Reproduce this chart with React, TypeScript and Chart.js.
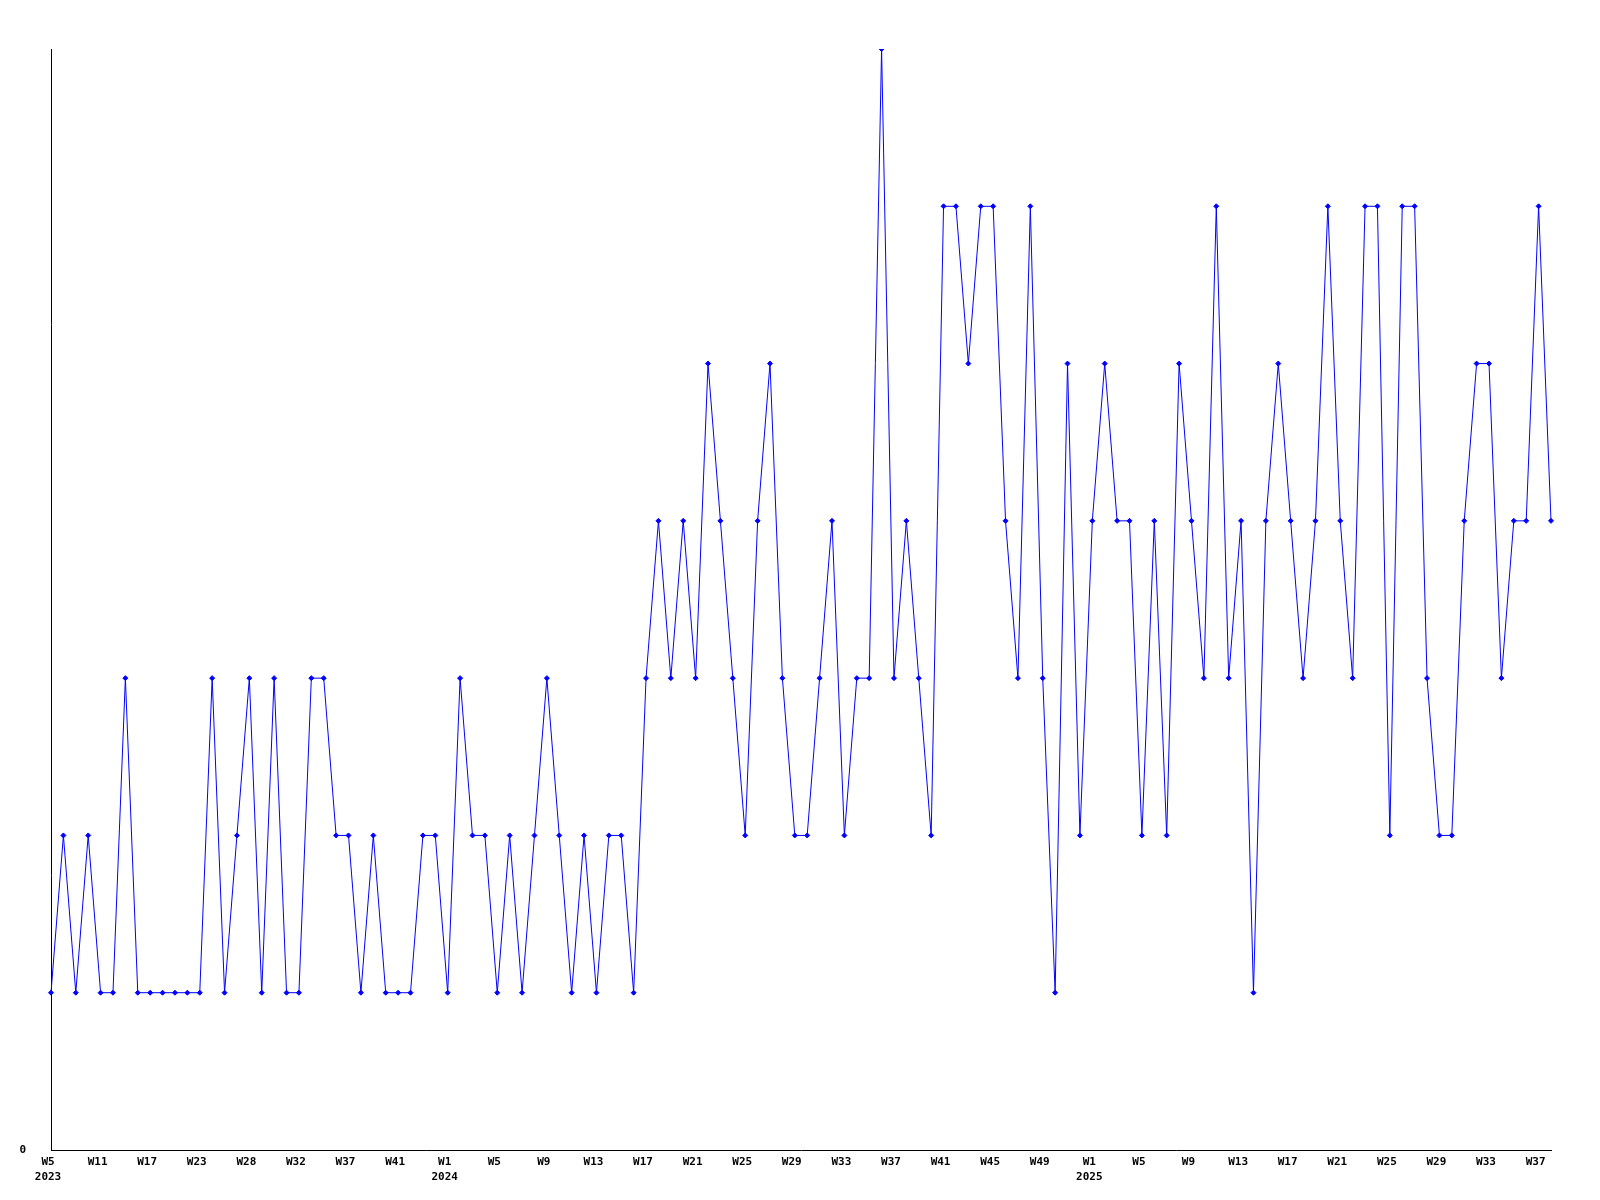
import React, { useEffect, useRef } from "react";
import { Chart, registerables } from "chart.js";

Chart.register(...registerables);

// Week labels for each point (2023 has gaps in the recorded weeks)
const weeks2023 = ["W5","W6","W8","W9","W11","W12","W14","W15","W17","W18","W20","W21","W23","W24","W25","W27","W28","W29","W30","W31","W32","W33","W35","W36","W37","W38","W39","W40","W41","W43","W47","W51"];
const weeks2024 = Array.from({ length: 52 }, (_, i) => "W" + (i + 1));
const weeks2025 = Array.from({ length: 38 }, (_, i) => "W" + (i + 1));

const values2023 = [1,2,1,2,1,1,3,1,1,1,1,1,1,3,1,2,3,1,3,1,1,3,3,2,2,1,2,1,1,1,2,2];
const values2024 = [1,3,2,2,1,2,1,2,3,2,1,2,1,2,2,1,3,4,3,4,3,5,4,3,2,4,5,3,2,2,3,4,2,3,3,7,3,4,3,2,6,6,5,6,6,4,3,6,3,1,5,2];
const values2025 = [4,5,4,4,2,4,2,5,4,3,6,3,4,1,4,5,4,3,4,6,4,3,6,6,2,6,6,3,2,2,4,5,5,3,4,4,6,4];

const yearLabels = ["2023", "2024", "2025"];
const yTickValues = [0];

export default function App() {
  const ref = useRef<HTMLCanvasElement | null>(null);

  useEffect(() => {
    document.body.style.margin = "0";
    const canvas = ref.current;
    if (!canvas) return;
    const labels = [...weeks2023, ...weeks2024, ...weeks2025];
    const data = [...values2023, ...values2024, ...values2025];
    const yearStart: Record<number, string> = {
      0: yearLabels[0],
      [weeks2023.length]: yearLabels[1],
      [weeks2023.length + weeks2024.length]: yearLabels[2],
    };
    const font = { family: "'DejaVu Sans Mono', monospace", size: 11, weight: "bold" as const, lineHeight: 1.36 };
    const chart = new Chart(canvas, {
      type: "line",
      data: {
        labels,
        datasets: [
          {
            data,
            borderColor: "#0000ff",
            backgroundColor: "#0000ff",
            borderWidth: 1,
            pointStyle: "rectRot",
            pointRadius: 2.5,
            pointBackgroundColor: "#0000ff",
            pointBorderColor: "#0000ff",
            pointBorderWidth: 1,
            tension: 0,
            fill: false,
          },
        ],
      },
      options: {
        animation: false,
        responsive: false,
        devicePixelRatio: 1,
        layout: { padding: { top: 49, right: 49, left: 0, bottom: 0 } },
        plugins: { legend: { display: false }, tooltip: { enabled: false } },
        scales: {
          x: {
            type: "category",
            offset: false,
            grid: { display: false, drawTicks: false },
            border: { display: true, color: "#000", width: 1 },
            ticks: {
              autoSkip: false,
              maxRotation: 0,
              minRotation: 0,
              padding: 5,
              labelOffset: -3,
              color: "#000",
              font,
              callback: (_v: any, i: number) => {
                if (i % 4 !== 0) return "";
                const w = labels[i];
                return yearStart[i] ? [w, yearStart[i]] : w;
              },
            },
            afterFit: (s: any) => {
              s.height = 50;
            },
          },
          y: {
            min: 0,
            max: 7,
            grid: { display: false, drawTicks: false },
            border: { display: true, color: "#000", width: 1 },
            ticks: { padding: 25, color: "#000", font },
            afterBuildTicks: (s: any) => {
              s.ticks = yTickValues.map((v) => ({ value: v }));
            },
            afterFit: (s: any) => {
              s.width = 51;
            },
          },
        },
      },
    });
    return () => chart.destroy();
  }, []);

  return (
    <div style={{ position: "absolute", left: 0, top: 0, width: 1600, height: 1200, background: "#fff" }}>
      <canvas ref={ref} width={1600} height={1200} style={{ display: "block" }} />
    </div>
  );
}
